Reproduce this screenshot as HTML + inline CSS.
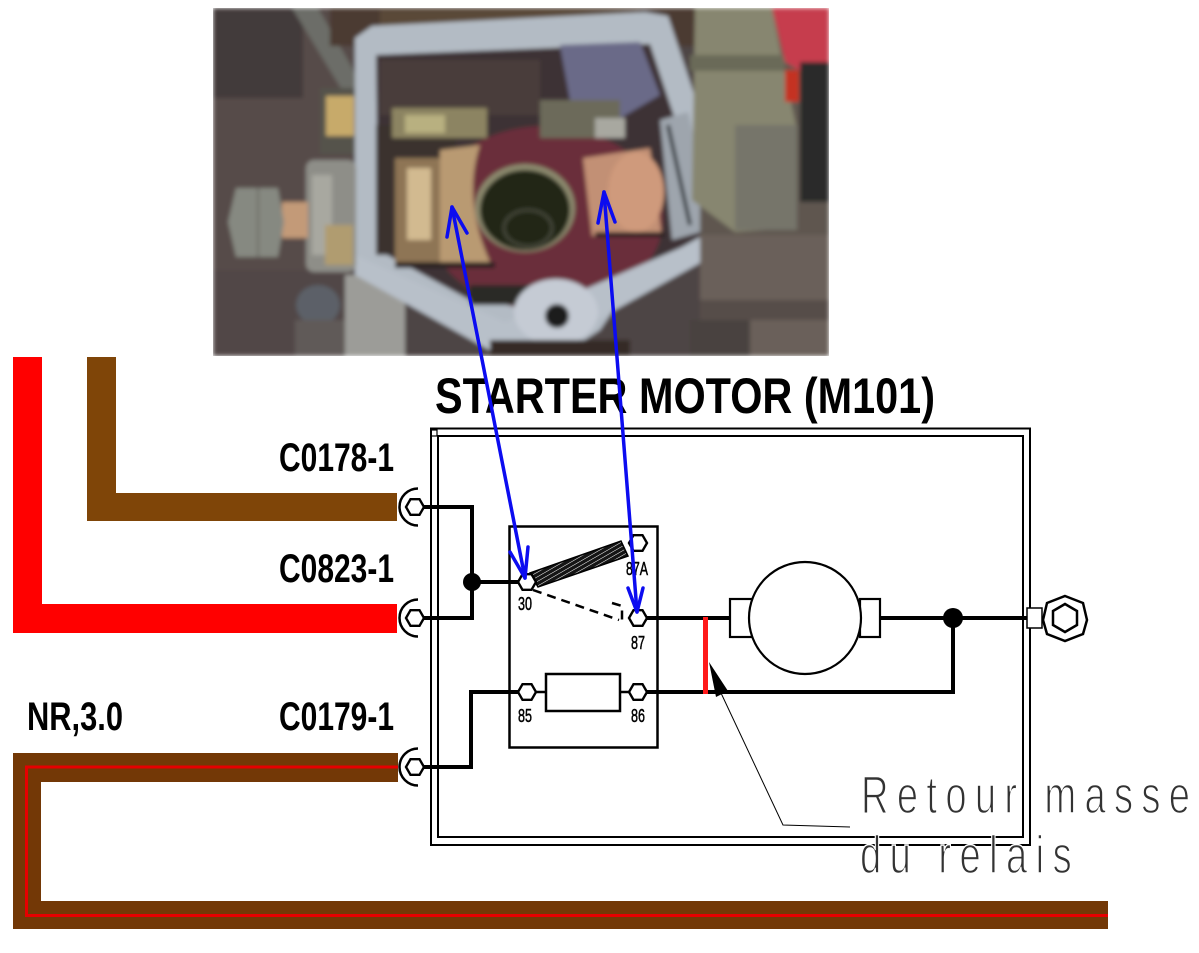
<!DOCTYPE html>
<html><head><meta charset="utf-8"><style>
html,body{margin:0;padding:0;background:#fff;}
svg{display:block;}
</style></head><body>
<svg width="1199" height="953" viewBox="0 0 1199 953" xmlns="http://www.w3.org/2000/svg">
<defs>
<clipPath id="pc"><rect x="213" y="8" width="616" height="348"/></clipPath>
<filter id="bl" x="-5%" y="-5%" width="110%" height="110%"><feGaussianBlur stdDeviation="2.2"/></filter>
<pattern id="hatch" width="4" height="4" patternUnits="userSpaceOnUse" patternTransform="rotate(60)">
<rect width="4" height="4" fill="#151515"/><line x1="0" y1="0" x2="0" y2="4" stroke="#fff" stroke-width="1"/></pattern>
</defs>
<rect width="1199" height="953" fill="#fff"/>

<!-- PHOTO -->
<g clip-path="url(#pc)">
<g filter="url(#bl)">
<rect x="213" y="8" width="616" height="348" fill="#4e4545"/>
<rect x="213" y="8" width="140" height="348" fill="#574b4a"/>
<rect x="213" y="8" width="90" height="90" fill="#423a3a"/>
<rect x="213" y="270" width="140" height="86" fill="#514747"/>
<polygon points="292,8 318,8 362,85 345,95" fill="#6c6d68"/>
<rect x="320" y="88" width="40" height="66" fill="#54524c"/>
<rect x="326" y="96" width="28" height="40" fill="#c7aa6a"/>
<rect x="330" y="8" width="380" height="38" fill="#4b3b32"/>
<rect x="380" y="10" width="260" height="20" fill="#5a4838"/>
<ellipse cx="318" cy="305" rx="22" ry="20" fill="#5c6068"/>
<rect x="345" y="275" width="60" height="81" fill="#9c9c98"/>
<rect x="295" y="320" width="50" height="36" fill="#605a58"/>
<polygon points="355,38 372,26 645,12 668,16 740,232 620,300 600,330 560,356 505,356 470,330 355,268" fill="#b3bbc4"/>
<polygon points="376,55 650,44 712,230 610,288 540,288 470,300 378,250" fill="#3e3334"/>
<polygon points="560,45 640,42 660,95 600,130 570,100" fill="#6b6a88"/>
<rect x="380" y="60" width="160" height="55" fill="#4a3c3a"/>
<ellipse cx="545" cy="218" rx="118" ry="92" fill="#6b2e3b"/>
<rect x="376" y="125" width="80" height="130" fill="#3a302e"/>
<rect x="392" y="108" width="95" height="30" fill="#8c8462"/>
<rect x="405" y="115" width="40" height="18" fill="#b8b080"/>
<rect x="540" y="100" width="80" height="38" fill="#6c6a5a"/>
<rect x="595" y="118" width="30" height="20" fill="#a8a8a0"/>
<path d="M440,150 L480,145 Q462,200 490,262 L440,262 Z" fill="#b99a72"/>
<rect x="395" y="158" width="45" height="105" fill="#8e7454"/>
<rect x="407" y="168" width="24" height="72" fill="#d2ba90"/>
<rect x="395" y="262" width="100" height="6" fill="#2a2220"/>
<ellipse cx="525" cy="208" rx="50" ry="44" fill="#8c8a6e"/>
<ellipse cx="525" cy="210" rx="45" ry="40" fill="#232619"/>
<ellipse cx="528" cy="228" rx="24" ry="18" fill="none" stroke="#45473a" stroke-width="3"/>
<polygon points="583,158 650,148 662,236 592,236" fill="#c29074"/>
<ellipse cx="636" cy="192" rx="28" ry="40" fill="#cf9a7c"/>
<polygon points="660,120 688,112 715,228 672,240" fill="#9ea5ad"/>
<line x1="668" y1="125" x2="690" y2="225" stroke="#33383c" stroke-width="4"/>
<rect x="595" y="232" width="70" height="5" fill="#2a2220"/>
<rect x="470" y="285" width="60" height="20" fill="#2b2a26"/>
<polygon points="355,255 505,322 560,300 740,222 745,238 570,335 520,356 500,356 355,275" fill="#b8c0c9"/>
<ellipse cx="556" cy="312" rx="42" ry="33" fill="#c5cbd4"/>
<circle cx="557" cy="316" r="12" fill="#1a1a1c"/>
<rect x="490" y="340" width="140" height="16" fill="#352c28"/>
<rect x="306" y="160" width="50" height="112" rx="8" fill="#8e8e88"/>
<rect x="312" y="175" width="20" height="80" fill="#a8a8a0"/>
<rect x="325" y="225" width="28" height="40" fill="#b09c70"/>
<rect x="282" y="202" width="26" height="36" fill="#c39a78"/>
<polygon points="236,188 278,188 284,222 278,257 236,257 228,222" fill="#868981"/>
<line x1="258" y1="188" x2="258" y2="257" stroke="#6a6c66" stroke-width="2"/>
<rect x="700" y="8" width="129" height="348" fill="#5f5650"/>
<polygon points="695,8 772,8 782,60 797,130 797,228 735,232 692,200" fill="#878670"/>
<rect x="690" y="55" width="95" height="16" fill="#6a6a58"/>
<rect x="735" y="125" width="62" height="105" fill="#76756a"/>
<polygon points="772,8 829,8 829,62 802,72 785,62" fill="#c63d4e"/>
<rect x="785" y="70" width="14" height="32" fill="#c43322"/>
<rect x="800" y="62" width="29" height="140" fill="#2b2a2a"/>
<rect x="700" y="235" width="129" height="121" fill="#6a605a"/>
<rect x="700" y="300" width="129" height="20" fill="#574e48"/>
<rect x="690" y="320" width="60" height="36" fill="#4a4240"/>
</g>
</g>

<!-- WIRES -->
<rect x="13" y="357" width="29" height="276" fill="#ff0000"/>
<rect x="13" y="604" width="384" height="29" fill="#ff0000"/>
<rect x="87" y="357" width="29" height="164" fill="#7f4508"/>
<rect x="87" y="493" width="310" height="28" fill="#7f4508"/>
<rect x="13" y="753" width="385" height="29" fill="#733806"/>
<rect x="13" y="753" width="28" height="176" fill="#733806"/>
<rect x="13" y="901" width="1095" height="28" fill="#733806"/>
<polyline points="398,767 26.5,767 26.5,915.5 1108,915.5" fill="none" stroke="#e60000" stroke-width="3"/>

<!-- LABELS -->
<g font-family="'Liberation Sans', Arial, sans-serif" font-weight="bold" fill="#000">
<text x="435" y="413" font-size="50" textLength="500" lengthAdjust="spacingAndGlyphs">STARTER MOTOR (M101)</text>
<text x="279" y="471" font-size="40" textLength="115" lengthAdjust="spacingAndGlyphs">C0178-1</text>
<text x="279" y="582" font-size="40" textLength="115" lengthAdjust="spacingAndGlyphs">C0823-1</text>
<text x="279" y="730" font-size="40" textLength="115" lengthAdjust="spacingAndGlyphs">C0179-1</text>
<text x="27" y="730" font-size="40" textLength="96" lengthAdjust="spacingAndGlyphs">NR,3.0</text>
<g font-size="18" font-weight="normal" stroke="#000" stroke-width="0.5">
<text x="518" y="610" textLength="14" lengthAdjust="spacingAndGlyphs">30</text>
<text x="626" y="575" textLength="22" lengthAdjust="spacingAndGlyphs">87A</text>
<text x="631" y="649" textLength="14" lengthAdjust="spacingAndGlyphs">87</text>
<text x="518" y="722" textLength="14" lengthAdjust="spacingAndGlyphs">85</text>
<text x="631" y="722" textLength="14" lengthAdjust="spacingAndGlyphs">86</text>
</g>
</g>

<!-- OUTER BOX -->
<rect x="431" y="428.5" width="599" height="416.5" fill="none" stroke="#000" stroke-width="2"/>
<rect x="438" y="436" width="585" height="401" fill="none" stroke="#000" stroke-width="2"/>
<rect x="431" y="430" width="6" height="6" fill="none" stroke="#000" stroke-width="1.2"/>

<!-- CONNECTORS -->
<g fill="none" stroke="#000" stroke-width="2.5">
<path d="M418,488.5 A18.5,18.5 0 0 0 418,525.5"/>
<path d="M418,599.5 A18.5,18.5 0 0 0 418,636.5"/>
<path d="M418,748.5 A18.5,18.5 0 0 0 418,785.5"/>
</g>

<!-- INTERNAL WIRES -->
<g fill="none" stroke="#000" stroke-width="4" stroke-linejoin="miter">
<polyline points="424,507 472,507 472,618 424,618"/>
<line x1="472" y1="582" x2="520" y2="582"/>
<polyline points="424,767 471,767 471,692 520,692"/>
<polyline points="646,692 953,692 953,618"/>
<line x1="646" y1="618" x2="731" y2="618"/>
<line x1="880" y1="618" x2="1027" y2="618"/>
</g>
<circle cx="472" cy="582" r="9" fill="#000"/>
<circle cx="953" cy="618" r="10" fill="#000"/>

<!-- RELAY -->
<rect x="509.5" y="526.5" width="148" height="221" fill="none" stroke="#000" stroke-width="2.5"/>
<line x1="535" y1="692" x2="546" y2="692" stroke="#000" stroke-width="2.5"/>
<line x1="620" y1="692" x2="630" y2="692" stroke="#000" stroke-width="2.5"/>
<rect x="546" y="674" width="74" height="37" fill="#fff" stroke="#000" stroke-width="2.5"/>
<polygon points="530,573 621,541 628,556 538,587" fill="url(#hatch)" stroke="#000" stroke-width="1.5"/>
<path d="M533,590 L619,620 M612,603 L622,606 L622,620" fill="none" stroke="#000" stroke-width="2.5" stroke-dasharray="9,6"/>
<g fill="#fff" stroke="#000" stroke-width="2.4">
<polygon points="536,582 531.5,589.8 522.5,589.8 518,582 522.5,574.2 531.5,574.2"/>
<polygon points="647,543 642.5,550.8 633.5,550.8 629,543 633.5,535.2 642.5,535.2"/>
<polygon points="647,618 642.5,625.8 633.5,625.8 629,618 633.5,610.2 642.5,610.2"/>
<polygon points="536,692 531.5,699.8 522.5,699.8 518,692 522.5,684.2 531.5,684.2"/>
<polygon points="647,692 642.5,699.8 633.5,699.8 629,692 633.5,684.2 642.5,684.2"/>
<polygon points="424,507 419.5,514.8 410.5,514.8 406,507 410.5,499.2 419.5,499.2"/>
<polygon points="424,618 419.5,625.8 410.5,625.8 406,618 410.5,610.2 419.5,610.2"/>
<polygon points="424,767 419.5,774.8 410.5,774.8 406,767 410.5,759.2 419.5,759.2"/>
</g>

<!-- MOTOR -->
<g fill="#fff" stroke="#000" stroke-width="2.2">
<rect x="730" y="599" width="22" height="38"/>
<rect x="860" y="599" width="20" height="38"/>
<circle cx="805" cy="618" r="56"/>
</g>
<rect x="1027" y="608" width="15" height="20" fill="#fff" stroke="#000" stroke-width="1.5"/>
<polygon points="1065,596 1083,603 1087,620 1083,634 1065,641 1047,634 1043,620 1047,603" fill="#fff" stroke="#000" stroke-width="2.5"/>
<polygon points="1065,604 1077,611 1077,625 1065,632 1053,625 1053,611" fill="none" stroke="#000" stroke-width="2.5"/>

<!-- RED BAR & LEADER -->
<line x1="705.5" y1="617" x2="705.5" y2="694" stroke="#ff1a1a" stroke-width="5"/>
<polygon points="709,662 716,697 728,691" fill="#000"/>
<polyline points="721,693 783,825 850,827" fill="none" stroke="#000" stroke-width="1"/>

<!-- RETOUR MASSE TEXT -->
<g font-family="'Liberation Sans', Arial, sans-serif" fill="#333" stroke="#fff" stroke-width="1.5">
<text transform="translate(861,813) scale(0.72,1)" x="0" y="0" font-size="53" textLength="457" lengthAdjust="spacing">Retour masse</text>
<text transform="translate(860,873) scale(0.72,1)" x="0" y="0" font-size="53" textLength="294" lengthAdjust="spacing">du relais</text>
</g>

<!-- BLUE ARROWS -->
<g fill="none" stroke="#0c0cf0" stroke-width="3.5" stroke-linecap="round" stroke-linejoin="round">
<line x1="452" y1="207" x2="525" y2="578"/>
<polyline points="447,237 452,207 467,233"/>
<polyline points="510,552 525,578 528,547"/>
<line x1="604" y1="192" x2="637" y2="612"/>
<polyline points="598,223 604,192 615,222"/>
<polyline points="628,588 637,612 643,588"/>
</g>
</svg>
</body></html>
